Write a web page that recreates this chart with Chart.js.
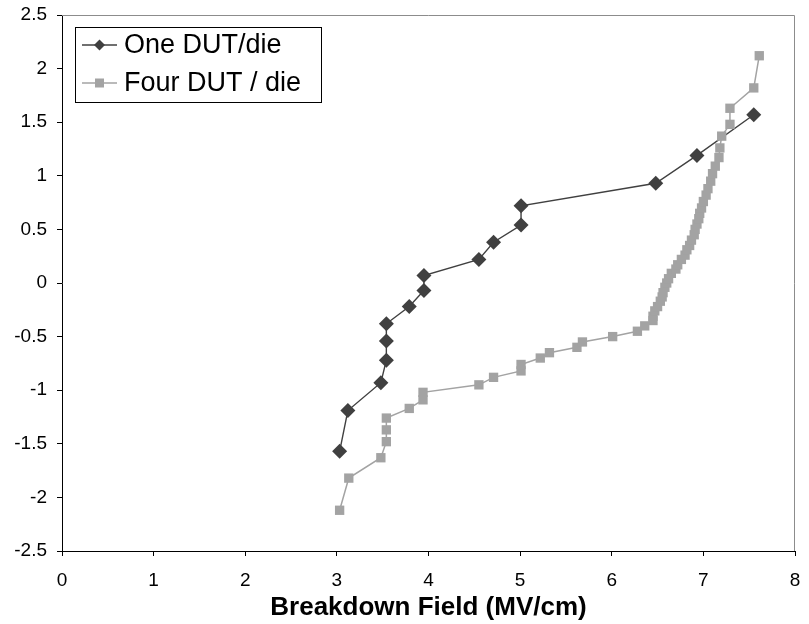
<!DOCTYPE html>
<html>
<head>
<meta charset="utf-8">
<script src="https://cdn.jsdelivr.net/npm/chart.js@4.4.1/dist/chart.umd.min.js"></script>
<style>
  html, body { margin: 0; padding: 0; background: #fff; }
  canvas { display: block; }
</style>
</head>
<body>
<canvas id="grafico" width="809" height="624"></canvas>
<script>
// Datos: campo de ruptura (MV/cm) frente a cuantil normal
const oneDutX = [3.03, 3.12, 3.48, 3.54, 3.54, 3.54, 3.79, 3.95, 3.95, 4.55, 4.71, 5.01, 5.01, 6.48, 6.93, 7.55];
const oneDutY = [-1.57, -1.19, -0.93, -0.72, -0.54, -0.38, -0.22, -0.07, 0.07, 0.22, 0.38, 0.54, 0.72, 0.93, 1.19, 1.57];

const fourDutX = [3.03, 3.13, 3.48, 3.54, 3.54, 3.54, 3.79, 3.94, 3.94, 4.55,
                  4.71, 5.01, 5.01, 5.22, 5.32, 5.62, 5.68, 6.01, 6.28, 6.36,
                  6.45, 6.45, 6.47, 6.5, 6.53, 6.55, 6.56, 6.58, 6.6, 6.62,
                  6.65, 6.7, 6.72, 6.76, 6.8, 6.82, 6.85, 6.87, 6.9, 6.91,
                  6.93, 6.95, 6.96, 6.98, 7.0, 7.03, 7.05, 7.08, 7.1, 7.13,
                  7.17, 7.18, 7.2, 7.29, 7.29, 7.55, 7.61];
const fourDutY = [-2.12, -1.82, -1.63, -1.48, -1.37, -1.26, -1.17, -1.09, -1.02, -0.95,
                  -0.88, -0.82, -0.76, -0.70, -0.65, -0.60, -0.55, -0.50, -0.45, -0.40,
                  -0.35, -0.31, -0.26, -0.22, -0.17, -0.13, -0.09, -0.04, 0, 0.04,
                  0.09, 0.13, 0.17, 0.22, 0.26, 0.31, 0.35, 0.40, 0.45, 0.50,
                  0.55, 0.60, 0.65, 0.70, 0.76, 0.82, 0.88, 0.95, 1.02, 1.09,
                  1.17, 1.26, 1.37, 1.48, 1.63, 1.82, 2.12];

const seriesLabels = ['One DUT/die', 'Four DUT / die'];
const xTitle = 'Breakdown Field (MV/cm)';
const xRange = [0, 8, 1];       // min, max, paso
const yRange = [-2.5, 2.5, 0.5];

const oscuro = '#404040';
const gris = '#a3a3a3';

const puntos = (xs, ys) => xs.map((x, i) => ({ x: x, y: ys[i] }));

// Marco gris superior/derecho y leyenda dentro del area del grafico
const marcoYLeyenda = {
    id: 'marcoYLeyenda',
    beforeDatasetsDraw(chart) {
        const { ctx, chartArea: a } = chart;
        ctx.save();
        ctx.strokeStyle = '#8c8c8c';
        ctx.lineWidth = 1;
        ctx.beginPath();
        ctx.moveTo(a.left, a.top + 0.5);
        ctx.lineTo(a.right - 0.5, a.top + 0.5);
        ctx.lineTo(a.right - 0.5, a.bottom);
        ctx.stroke();
        ctx.restore();
    },
    afterDraw(chart) {
        const { ctx, chartArea: a } = chart;
        const bx = a.left + 13, by = a.top + 12, bw = 246, bh = 75;
        ctx.save();
        ctx.fillStyle = '#fff';
        ctx.fillRect(bx, by, bw, bh);
        ctx.strokeStyle = '#000';
        ctx.lineWidth = 1;
        ctx.strokeRect(bx + 0.5, by + 0.5, bw, bh);

        const filas = [by + 18, by + 56];
        const estilos = [
            { color: oscuro, tipo: 'rombo' },
            { color: gris, tipo: 'cuadro' }
        ];
        filas.forEach((fy, i) => {
            const est = estilos[i];
            ctx.strokeStyle = est.color;
            ctx.lineWidth = 1.5;
            ctx.beginPath();
            ctx.moveTo(bx + 7, fy);
            ctx.lineTo(bx + 42, fy);
            ctx.stroke();
            const cx = bx + 24.5;
            ctx.fillStyle = est.color;
            ctx.beginPath();
            if (est.tipo === 'rombo') {
                ctx.moveTo(cx, fy - 5.5);
                ctx.lineTo(cx + 5.5, fy);
                ctx.lineTo(cx, fy + 5.5);
                ctx.lineTo(cx - 5.5, fy);
                ctx.closePath();
            } else {
                ctx.rect(cx - 4.5, fy - 4.5, 9, 9);
            }
            ctx.fill();
            ctx.fillStyle = '#000';
            ctx.font = '27px "Liberation Sans", Arial, sans-serif';
            ctx.textBaseline = 'middle';
            ctx.textAlign = 'left';
            ctx.fillText(seriesLabels[i], bx + 49, fy + 1);
        });
        ctx.restore();
    }
};

const ctx = document.getElementById('grafico').getContext('2d');
new Chart(ctx, {
    type: 'scatter',
    data: {
        datasets: [
            {
                label: seriesLabels[0],
                data: puntos(oneDutX, oneDutY),
                showLine: true,
                borderColor: oscuro,
                borderWidth: 1.4,
                backgroundColor: oscuro,
                pointStyle: 'rectRot',
                pointRadius: 7.5,
                pointBorderWidth: 0,
                pointBackgroundColor: oscuro,
                order: 1
            },
            {
                label: seriesLabels[1],
                data: puntos(fourDutX, fourDutY),
                showLine: true,
                borderColor: gris,
                borderWidth: 1.5,
                backgroundColor: gris,
                pointStyle: 'rect',
                pointRadius: 6.6,
                pointBorderWidth: 0,
                pointBackgroundColor: gris,
                order: 0
            }
        ]
    },
    options: {
        responsive: false,
        maintainAspectRatio: false,
        animation: false,
        layout: { padding: { left: 0, right: 14, top: 15, bottom: 0 } },
        plugins: {
            legend: { display: false },
            tooltip: { enabled: false }
        },
        scales: {
            x: {
                type: 'linear',
                min: xRange[0],
                max: xRange[1],
                ticks: {
                    stepSize: xRange[2],
                    color: '#000',
                    padding: 13,
                    font: { family: '"Liberation Sans", Arial, sans-serif', size: 19 }
                },
                grid: { drawOnChartArea: false, color: '#000', tickLength: 5 },
                border: { color: '#000', width: 1 },
                title: {
                    display: true,
                    text: xTitle,
                    color: '#000',
                    padding: { top: 0, bottom: 1 },
                    font: { family: '"Liberation Sans", Arial, sans-serif', size: 26, weight: 'bold' }
                },
                afterFit: s => { s.height = 73; s.paddingLeft = 0; s.paddingRight = 0; }
            },
            y: {
                type: 'linear',
                min: yRange[0],
                max: yRange[1],
                ticks: {
                    stepSize: yRange[2],
                    color: '#000',
                    padding: 10,
                    font: { family: '"Liberation Sans", Arial, sans-serif', size: 19 },
                    callback: v => String(Math.round(v * 10) / 10)
                },
                grid: { drawOnChartArea: false, color: '#000', tickLength: 5 },
                border: { color: '#000', width: 1 },
                afterFit: s => { s.width = 62; s.paddingTop = 0; s.paddingBottom = 0; }
            }
        }
    },
    plugins: [marcoYLeyenda]
});
</script>
</body>
</html>
